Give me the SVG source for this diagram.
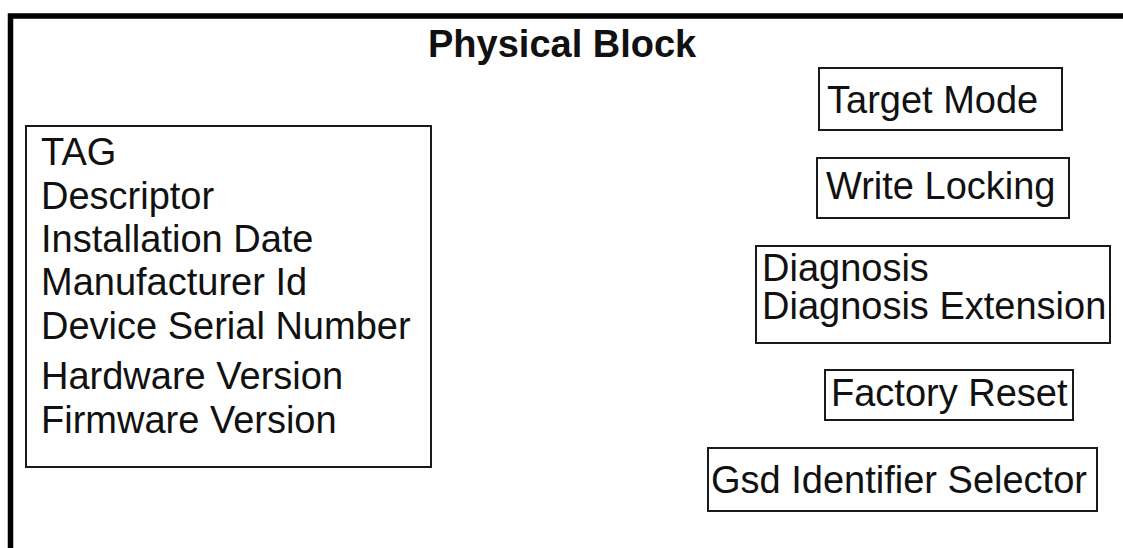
<svg xmlns="http://www.w3.org/2000/svg" width="1123" height="548" viewBox="0 0 1123 548">
<style>
.box{fill:#fff;stroke:#1a1a1a;stroke-width:2}
.t{font-family:"Liberation Sans",Arial,sans-serif;font-size:38px;fill:#111}
.title{font-family:"Liberation Sans",Arial,sans-serif;font-size:38px;font-weight:bold;fill:#111}
</style>
<rect width="1123" height="548" fill="#fff"/>
<g id="physical-block">
<rect x="10.5" y="16" width="1200" height="600" fill="none" stroke="#000" stroke-width="5.5"/>
<text class="title" x="428" y="57">Physical Block</text>
</g>
<g id="identity">
<rect class="box" x="26" y="126" width="405" height="341"/>
<text class="t" x="41" y="165">TAG</text>
<text class="t" x="41" y="209">Descriptor</text>
<text class="t" x="41" y="252">Installation Date</text>
<text class="t" x="41" y="295">Manufacturer Id</text>
<text class="t" x="41" y="339">Device Serial Number</text>
<text class="t" x="41" y="389">Hardware Version</text>
<text class="t" x="41" y="433">Firmware Version</text>
</g>
<g id="target-mode">
<rect class="box" x="819" y="68" width="243" height="62"/>
<text class="t" x="827" y="113">Target Mode</text>
</g>
<g id="write-locking">
<rect class="box" x="817" y="158" width="252" height="60"/>
<text class="t" x="826" y="199">Write Locking</text>
</g>
<g id="diagnosis">
<rect class="box" x="756" y="246" width="354" height="97"/>
<text class="t" x="762" y="281">Diagnosis</text>
<text class="t" x="762" y="319">Diagnosis Extension</text>
</g>
<g id="factory-reset">
<rect class="box" x="825" y="370" width="248" height="50"/>
<text class="t" x="831" y="406">Factory Reset</text>
</g>
<g id="gsd-identifier">
<rect class="box" x="708" y="448" width="389" height="63"/>
<text class="t" x="711" y="493">Gsd Identifier Selector</text>
</g>
<g id="connectors"></g>
</svg>
